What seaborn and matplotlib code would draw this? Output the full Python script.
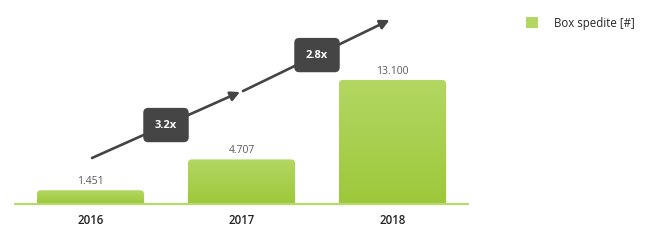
import numpy as np
import pandas as pd
import matplotlib
matplotlib.use("Agg")
import matplotlib.pyplot as plt
import seaborn as sns
from matplotlib.patches import FancyBboxPatch, Patch

years = ["2016", "2017", "2018"]
values = [1451, 4707, 13100]
value_labels = ["1.451", "4.707", "13.100"]
growth_labels = ["3.2x", "2.8x"]
series_name = "Box spedite [#]"

sns.set_style("white")
plt.rcParams["font.family"] = ["Open Sans", "DejaVu Sans"]

W, H = 649, 242
fig = plt.figure(figsize=(W / 100, H / 100), dpi=100)
ax = fig.add_axes([15 / W, 38 / H, 453 / W, 194 / H])

df = pd.DataFrame({"year": years, "value": values})
sns.barplot(data=df, x="year", y="value", ax=ax, color="#a6cd45", width=0.71,
            saturation=1)
ymax = 20490
ax.set_ylim(0, ymax)
ax.set_xlim(-0.5, 2.5)

# gradient + rounded top
grad = np.linspace(0, 1, 256).reshape(-1, 1)
cmap = matplotlib.colors.LinearSegmentedColormap.from_list("g", ["#9dc83a", "#b3d763"])
px_x = 453 / 3.0
px_y = 194 / ymax
for p in list(ax.patches):
    x0, w, h = p.get_x(), p.get_width(), p.get_height()
    p.set_visible(False)
    r = 4 / px_x
    clip = FancyBboxPatch((x0, -500), w, h + 500,
                          boxstyle=f"round,pad=0,rounding_size={r}",
                          mutation_aspect=px_x / px_y,
                          transform=ax.transData, facecolor="none", edgecolor="none")
    ax.add_patch(clip)
    im = ax.imshow(grad, extent=[x0, x0 + w, 0, h], origin="lower", cmap=cmap,
                   aspect="auto", zorder=2)
    im.set_clip_path(clip)

ax.set_aspect("auto")
ax.set_xlim(-0.5, 2.5)
ax.set_ylim(0, ymax)

for i, (v, lab) in enumerate(zip(values, value_labels)):
    ax.text(i, v + 350, lab, ha="center", va="bottom", fontsize=7.5, color="#5a5a5a")

# baseline
ax.axhline(0, color="#b5d96a", lw=1.6, zorder=5, clip_on=False)
sns.despine(ax=ax, left=True, bottom=True, top=True, right=True)
ax.set_yticks([])
ax.set_xlabel("")
ax.set_ylabel("")
ax.tick_params(axis="x", length=0, pad=7)
for t in ax.get_xticklabels():
    t.set_fontsize(8.3)
    t.set_fontweight("semibold")
    t.set_color("#222222")

# growth arrows
arrows = [((0.01, 4860), (0.99, 11830)), ((1.01, 11930), (1.98, 19430))]
for (s, e) in arrows:
    ax.annotate("", xy=e, xytext=s, xycoords="data",
                arrowprops=dict(arrowstyle="-|>,head_length=0.55,head_width=0.28",
                                color="#444444", lw=1.9, shrinkA=0, shrinkB=0),
                zorder=6, annotation_clip=False)
box_pos = [(0.5, 8340), (1.5, 15730)]
for (bx, by), lab in zip(box_pos, growth_labels):
    ax.text(bx, by, lab, ha="center", va="center", fontsize=8, fontweight="bold",
            color="white", zorder=8,
            bbox=dict(boxstyle="round,pad=1.05,rounding_size=0.45",
                      facecolor="#454545", edgecolor="none"))

fig.legend(handles=[Patch(facecolor="#b3d763", edgecolor="none", label=series_name)],
           loc="center left", bbox_to_anchor=(521 / W, 1 - 23 / H), frameon=False,
           fontsize=8.3, handlelength=1.1, handleheight=1.1, handletextpad=1.4,
           borderaxespad=0)

fig.savefig("out.png", dpi=100)
